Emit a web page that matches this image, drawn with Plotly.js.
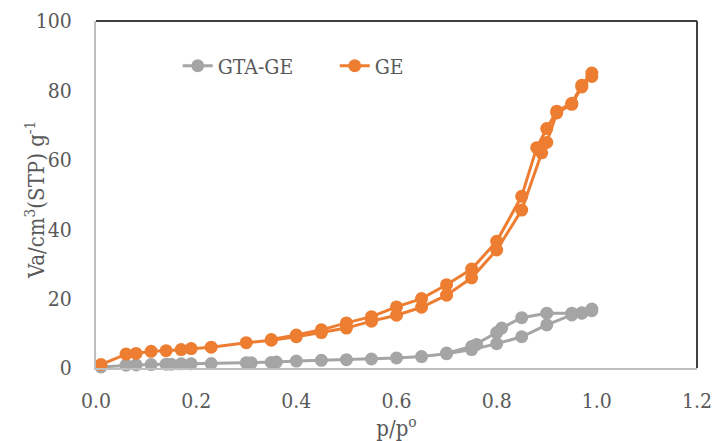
<!DOCTYPE html>
<html>
<head>
<meta charset="utf-8">
<script src="https://cdn.plot.ly/plotly-3.0.1.min.js"></script>
<style>html,body{margin:0;padding:0;background:#fff;}#chart{width:714px;height:441px;}</style>
</head>
<body>
<div id="chart"></div>
<script>
// GTA-GE: adsorption then desorption branch (p/p0, Va)
const gtaX = [0.01,0.06,0.08,0.11,0.14,0.15,0.17,0.19,0.23,0.30,0.31,0.35,0.36,0.40,0.45,0.50,0.55,0.60,0.65,0.70,0.75,0.80,0.85,0.90,0.95,0.97,0.99,
              0.99,0.97,0.95,0.90,0.85,0.81,0.80,0.76,0.75,0.70];
const gtaY = [0.3,0.8,0.9,1.0,1.1,1.1,1.2,1.2,1.3,1.5,1.5,1.6,1.7,2.0,2.2,2.4,2.6,2.9,3.3,4.1,5.3,7.0,9.0,12.4,15.3,15.8,16.5,
              17.0,15.9,15.8,15.8,14.5,11.5,10.2,6.8,6.2,4.3];
// GE: adsorption then desorption branch
const geX = [0.01,0.06,0.08,0.11,0.14,0.17,0.19,0.23,0.30,0.35,0.40,0.45,0.50,0.55,0.60,0.65,0.70,0.75,0.80,0.85,0.89,0.90,0.92,0.95,0.97,0.99,
             0.99,0.97,0.95,0.92,0.90,0.88,0.85,0.80,0.75,0.70,0.65,0.60,0.55,0.50,0.45,0.40,0.35];
const geY = [1.0,4.0,4.2,4.8,5.0,5.3,5.6,6.0,7.3,8.0,9.0,10.2,11.5,13.5,15.2,17.5,21.0,26.0,34.0,45.5,62.0,65.0,73.5,76.0,81.0,84.0,
             85.0,81.5,76.3,74.0,69.0,63.5,49.5,36.5,28.5,24.0,20.0,17.6,14.8,13.0,11.0,9.5,8.2];
const names = ['GTA-GE','GE'];
const xTitle = 'p/p<sup>o</sup>';
const yTitle = 'Va/cm<sup>3</sup>(STP) g<sup>-1</sup>';

const FONT = '"DejaVu Serif Condensed", "DejaVu Serif", serif';
const traces = [
  {x: gtaX, y: gtaY, name: names[0], type: 'scatter', mode: 'lines+markers', cliponaxis: false,
   line: {color: '#A5A5A5', width: 3}, marker: {color: '#A5A5A5', size: 13}},
  {x: geX, y: geY, name: names[1], type: 'scatter', mode: 'lines+markers', cliponaxis: false,
   line: {color: '#ED7D31', width: 3}, marker: {color: '#ED7D31', size: 13}}
];
const layout = {
  width: 714, height: 441,
  margin: {l: 96, r: 17, t: 21, b: 73},
  paper_bgcolor: '#fff', plot_bgcolor: '#fff',
  font: {family: FONT, size: 21, color: '#595959'},
  showlegend: true,
  legend: {orientation: 'h', x: 0.136, y: 0.87, yanchor: 'middle', xanchor: 'left',
           entrywidth: 112, entrywidthmode: 'pixels',
           font: {family: FONT, size: 21, color: '#595959'}, bgcolor: 'rgba(0,0,0,0)'},
  xaxis: {range: [0, 1.2], dtick: 0.2, tickformat: '.1f', showgrid: false, zeroline: false,
          showline: true, linecolor: '#BFBFBF', linewidth: 2, ticks: '', ticklabelstandoff: 13,
          tickfont: {family: FONT, size: 21, color: '#595959'},
          title: {text: xTitle, font: {family: FONT, size: 22, color: '#595959'}, standoff: 4}},
  yaxis: {range: [0, 100], dtick: 20, showgrid: false, zeroline: false,
          showline: true, linecolor: '#BFBFBF', linewidth: 2, ticks: '', ticklabelstandoff: 18,
          tickfont: {family: FONT, size: 21, color: '#595959'}},
  annotations: [
    {text: yTitle, xref: 'paper', yref: 'paper', x: -0.1015, y: 0.484, xanchor: 'center', yanchor: 'middle',
     textangle: -90, showarrow: false, font: {family: FONT, size: 22, color: '#595959'}}
  ],
  shapes: [
    {type: 'line', xref: 'paper', yref: 'paper', x0: 0, x1: 1, y0: 1, y1: 1, line: {color: '#404040', width: 2}},
    {type: 'line', xref: 'paper', yref: 'paper', x0: 1, x1: 1, y0: 0, y1: 1, line: {color: '#404040', width: 2}}
  ]
};
Plotly.newPlot('chart', traces, layout, {displayModeBar: false, staticPlot: true});
</script>
</body>
</html>
